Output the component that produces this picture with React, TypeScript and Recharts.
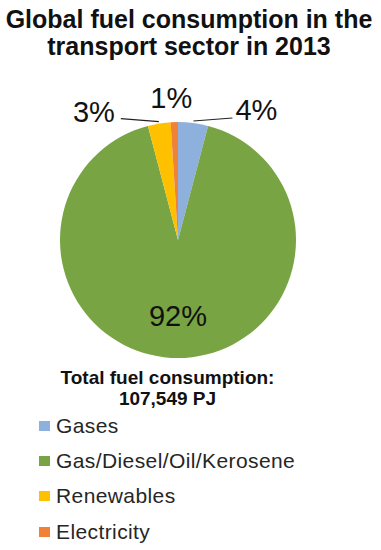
import React from "react";
import { PieChart, Pie, Cell } from "recharts";

const categories = ["Gases", "Gas/Diesel/Oil/Kerosene", "Renewables", "Electricity"];
const shares = [4.1, 91.8, 3.1, 1.0];
const shareLabels = ["4%", "92%", "3%", "1%"];
const colors = ["#8DB0DD", "#78A443", "#FFC000", "#F08237"];
const titleLines = ["Global fuel consumption in the", "transport sector in 2013"];
const totalLines = ["Total fuel consumption:", "107,549 PJ"];

const data = categories.map((name, i) => ({ name, value: shares[i], label: shareLabels[i] }));

const FONT = "'Liberation Sans', Arial, sans-serif";
const RAD = Math.PI / 180;

const renderLabel = (props: any) => {
  const { cx, cy, midAngle, outerRadius, percent, index } = props;
  const text = shareLabels[index];
  const cos = Math.cos(-midAngle * RAD);
  const sin = Math.sin(-midAngle * RAD);
  const common = { fill: "#111", fontSize: 29, fontFamily: FONT };
  if (percent > 0.5) {
    const r = outerRadius * 0.64;
    return (
      <text x={cx + r * cos} y={cy + r * sin} textAnchor="middle" dominantBaseline="central" {...common}>
        {text}
      </text>
    );
  }
  const x0 = cx + (outerRadius + 2) * cos;
  const y0 = cy + (outerRadius + 2) * sin;
  if (cos > 0.05) {
    const x1 = x0 + 39;
    const y1 = y0 - 3;
    return (
      <g>
        <path d={`M${x0},${y0}L${x1},${y1}`} stroke="#222" strokeWidth={1.2} fill="none" />
        <text x={x1 + 3} y={y1 + 2} textAnchor="start" {...common}>{text}</text>
      </g>
    );
  }
  if (cos < -0.05) {
    const x1 = x0 - 38;
    const y1 = y0 - 3;
    return (
      <g>
        <path d={`M${x0},${y0}L${x1},${y1}`} stroke="#222" strokeWidth={1.2} fill="none" />
        <text x={x1 - 6} y={y1 + 3} textAnchor="end" {...common}>{text}</text>
      </g>
    );
  }
  return (
    <text x={x0 - 3} y={y0 - 12} textAnchor="middle" {...common}>{text}</text>
  );
};

export default function App() {
  return (
    <div style={{ position: "absolute", left: 0, top: 0, width: 381, height: 550, background: "#fff" }}>
      <div
        style={{
          position: "absolute",
          left: 0,
          top: 6,
          width: 378,
          textAlign: "center",
          fontFamily: FONT,
          fontWeight: "bold",
          fontSize: 25,
          lineHeight: "27px",
          color: "#111",
        }}
      >
        {titleLines.map((t, i) => (
          <div key={i}>{t}</div>
        ))}
      </div>
      <PieChart width={381} height={550} margin={{ top: 0, right: 0, bottom: 0, left: 0 }}>
        <Pie
          data={data}
          dataKey="value"
          nameKey="name"
          cx={178}
          cy={240}
          outerRadius={118}
          startAngle={90}
          endAngle={-270}
          stroke="none"
          label={renderLabel}
          labelLine={false}
          isAnimationActive={false}
        >
          {data.map((d, i) => (
            <Cell key={d.name} fill={colors[i]} />
          ))}
        </Pie>
      </PieChart>
      <div
        style={{
          position: "absolute",
          left: 0,
          top: 367,
          width: 335,
          textAlign: "center",
          fontFamily: FONT,
          fontWeight: "bold",
          fontSize: 19,
          lineHeight: "21px",
          color: "#111",
        }}
      >
        {totalLines.map((t, i) => (
          <div key={i}>{t}</div>
        ))}
      </div>
      <div style={{ position: "absolute", left: 39, top: 408, fontFamily: FONT }}>
        {categories.map((name, i) => (
          <div key={name} style={{ display: "flex", alignItems: "center", height: 35.3 }}>
            <span style={{ width: 11, height: 10, background: colors[i], marginRight: 6, display: "inline-block" }} />
            <span style={{ fontSize: 21, color: "#262626", letterSpacing: 0.4 }}>{name}</span>
          </div>
        ))}
      </div>
    </div>
  );
}
